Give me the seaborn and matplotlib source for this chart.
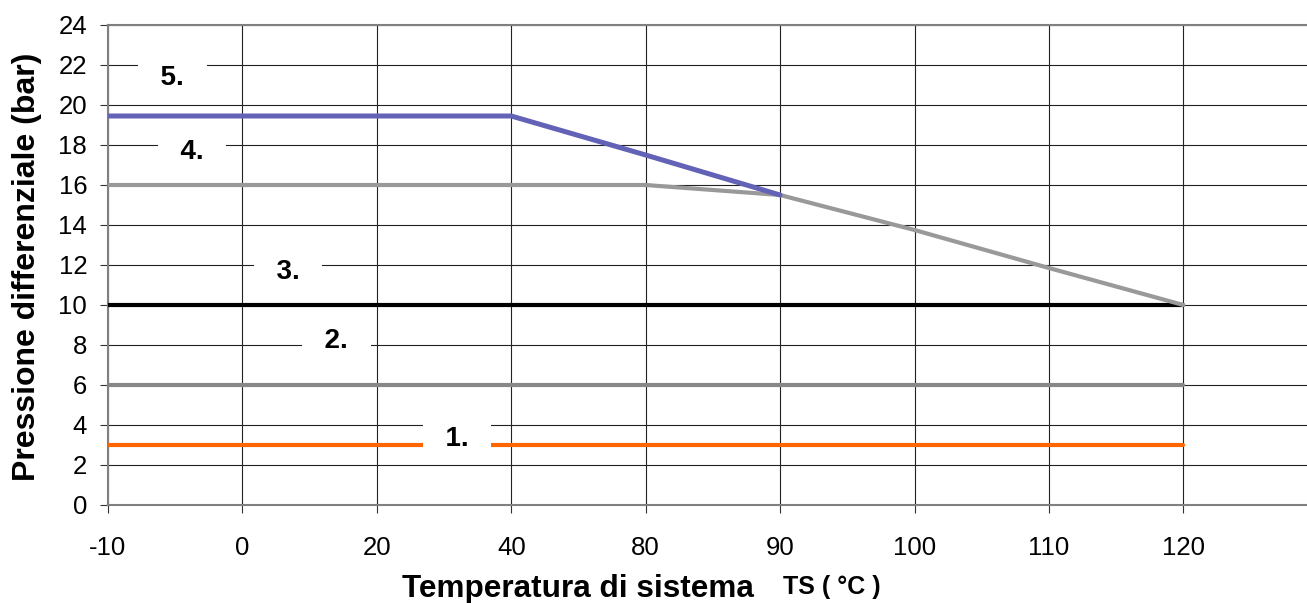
import pandas as pd
import matplotlib.pyplot as plt
import seaborn as sns

# dati
temps = ['-10', '0', '20', '40', '80', '90', '100', '110', '120']
linea1 = [3, 3, 3, 3, 3, 3, 3, 3, 3]
linea2 = [6, 6, 6, 6, 6, 6, 6, 6, 6]
linea3 = [10, 10, 10, 10, 10, 10, 10, 10, 10]
linea4 = [16, 16, 16, 16, 16, 15.5, 13.75, 11.85, 10]
linea5 = [19.45, 19.45, 19.45, 19.45, 17.5, 15.5]
etichette = ['1.', '2.', '3.', '4.', '5.']

sns.set_style('white')
plt.rcParams['font.family'] = ['Liberation Sans', 'DejaVu Sans']
plt.rcParams['text.color'] = 'black'
plt.rcParams['xtick.labelcolor'] = 'black'
plt.rcParams['ytick.labelcolor'] = 'black'

W, H = 1307, 603
fig = plt.figure(figsize=(W / 100, H / 100), dpi=100)
ax = fig.add_axes([108 / W, 1 - 505 / H, 1 - 108 / W, 480 / H])

serie = [
    (linea1, '#FF6600', 3.0),
    (linea2, '#888888', 3.0),
    (linea3, '#000000', 3.0),
    (linea4, '#999999', 3.0),
    (linea5, '#6262B6', 3.6),
]
for vals, col, lw in serie:
    df = pd.DataFrame({'pos': range(len(vals)), 'bar': vals})
    sns.lineplot(data=df, x='pos', y='bar', color=col, lw=lw, ax=ax, zorder=3)

ax.set_xticks(range(len(temps)))
ax.set_xticklabels(temps)
ax.set_yticks(range(0, 25, 2))
ax.set_xlim(0, 8.92)
ax.set_ylim(0, 24)
ax.set_xlabel('')
ax.set_ylabel('')

ax.set_axisbelow(True)
ax.grid(True, color='#222222', lw=0.8)
for s in ['left', 'bottom', 'top']:
    ax.spines[s].set_color('#808080')
    ax.spines[s].set_linewidth(1.5)
ax.spines['right'].set_visible(False)

ax.tick_params(axis='both', direction='out', length=6, width=0.8, color='#333333',
               labelsize=18.5, labelcolor='black', left=True, bottom=True)
ax.tick_params(axis='y', pad=9)
ax.tick_params(axis='x', pad=16)

# etichette numerate con sfondo bianco
pos_etich = [(2.60, 3.3), (1.70, 8.2), (1.34, 11.65), (0.625, 17.65), (0.48, 21.35)]
for txt, (xx, yy) in zip(etichette, pos_etich):
    ax.text(xx, yy, '  ' + txt + '  ', ha='center', va='center', fontsize=20,
            fontweight='bold', zorder=5, color='black',
            bbox=dict(facecolor='white', edgecolor='none', boxstyle='square,pad=0.25'))

fig.text(27 / W, 1 - 267 / H, 'Pressione differenziale (bar)', rotation=90,
         ha='center', va='center', fontsize=23, fontweight='bold')
fig.text(402 / W, 1 - 597 / H, 'Temperatura di sistema', ha='left', va='baseline',
         fontsize=22.7, fontweight='bold')
fig.text(783 / W, 1 - 594 / H, 'TS ( °C )', ha='left', va='baseline',
         fontsize=18, fontweight='bold')

fig.savefig('out.png', dpi=100)
